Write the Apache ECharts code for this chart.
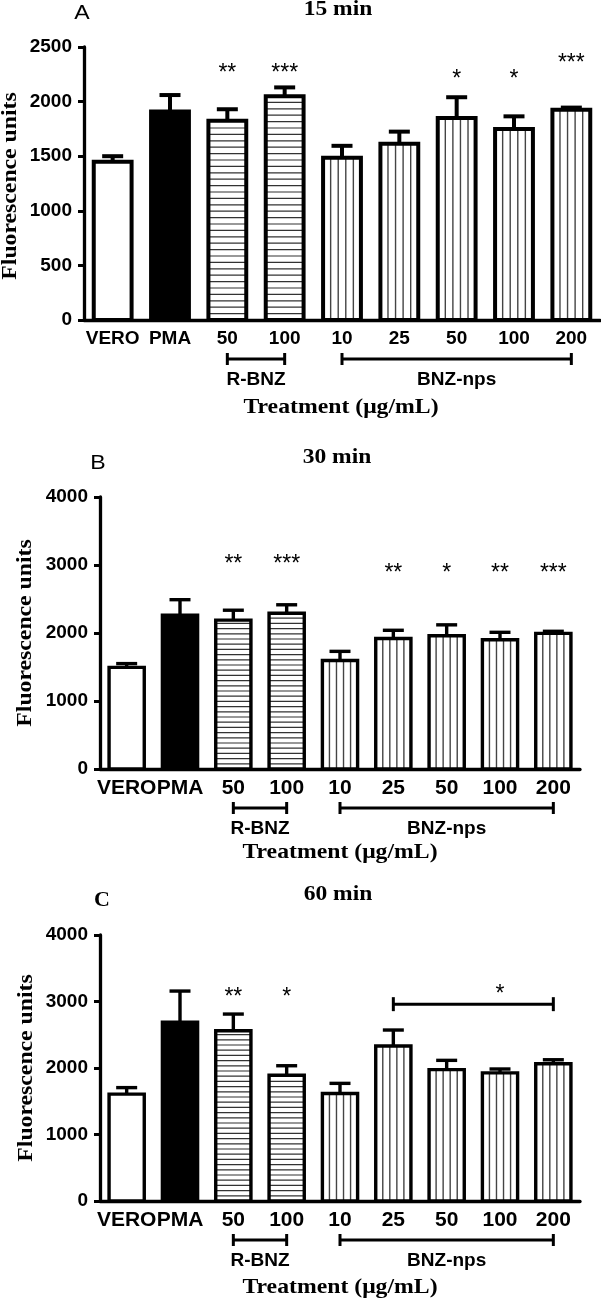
<!DOCTYPE html>
<html>
<head>
  <meta charset="utf-8">
  <title>Fluorescence units</title>
  <script src="https://cdn.jsdelivr.net/npm/echarts@6/dist/echarts.min.js"></script>
  <style>
    html, body { margin: 0; padding: 0; background: #fff; }
  </style>
</head>
<body>
  <div id="main" style="width:601px;height:1300px;"></div>
  <script>
    // categories and which treatment group each bar belongs to
    var categories = ['VERO', 'PMA', '50', '100', '10', '25', '50', '100', '200'];
    var groupOf = ['vero', 'pma', 'rbnz', 'rbnz', 'nps', 'nps', 'nps', 'nps', 'nps'];

    // 15 min
    var mean15 = [1450, 1910, 1825, 2050, 1485, 1615, 1850, 1750, 1925];
    var err15 = [50, 150, 105, 80, 110, 110, 190, 115, 20];
    var stars15 = ['', '', '**', '***', '', '', '*', '*', '***'];
    var starAt15 = [0, 0, 2300, 2300, 0, 0, 2245, 2245, 2390];

    // 30 min
    var mean30 = [1495, 2260, 2190, 2290, 1595, 1920, 1960, 1900, 1995];
    var err30 = [55, 230, 145, 125, 135, 120, 160, 110, 30];
    var stars30 = ['', '', '**', '***', '', '**', '*', '**', '***'];
    var starAt30 = [0, 0, 3080, 3080, 0, 2950, 2950, 2950, 2950];

    // 60 min
    var mean60 = [1607, 2687, 2561, 1892, 1617, 2331, 1975, 1926, 2064];
    var err60 = [98, 470, 250, 142, 152, 240, 140, 59, 60];
    var stars60 = ['', '', '**', '*', '', '', '', '', ''];
    var starAt60 = [0, 0, 3130, 3130, 0, 0, 0, 0, 0];
    var sig60 = [[5, 8, 2960]];
    var sig60Star = [[6.5, 3175]];

    var yMax = [2500, 4000, 4000];
    var yStep = [500, 1000, 1000];
    var titles = ['15 min', '30 min', '60 min'];
    var letters = ['A', 'B', 'C'];
    var brackets = [[2, 3, 0], [4, 8, 0]];
    var bracketNames = ['R-BNZ', 'BNZ-nps'];

    var panels = [
      { mean: mean15, err: err15, stars: stars15, starAt: starAt15 },
      { mean: mean30, err: err30, stars: stars30, starAt: starAt30 },
      { mean: mean60, err: err60, stars: stars60, starAt: starAt60 }
    ];

    var SANS = '"Liberation Sans", Arial, sans-serif';
    var SERIF = '"Liberation Serif", "Times New Roman", serif';

    var grids = [
      { left: 84, top: 47, width: 516, height: 273 },
      { left: 100, top: 497, width: 480, height: 272 },
      { left: 100, top: 935, width: 480, height: 266 }
    ];
    var lw = [4, 3.4, 3.4];
    var hGap = [6.4, 5.2, 5.2];

    function seg(x1, y1, x2, y2, w, c) {
      return { type: 'line', shape: { x1: x1, y1: y1, x2: x2, y2: y2 }, style: { stroke: c || '#000', lineWidth: w } };
    }
    function txt(x, y, s, font) {
      return {
        type: 'text', x: x, y: y,
        style: { text: s, font: font, fill: '#000', textAlign: 'center', textVerticalAlign: 'middle', align: 'center', verticalAlign: 'middle' }
      };
    }

    function barRenderer(p) {
      return function (params, api) {
        var i = api.value(0);
        var top = api.coord([i, api.value(1)]);
        var base = api.coord([i, 0]);
        var w = api.size([1, 0])[0] * 0.66;
        var x0 = top[0] - w / 2;
        var h = base[1] - top[1];
        var kind = groupOf[i];
        var kids = [{ type: 'rect', shape: { x: x0, y: top[1], width: w, height: h }, style: { fill: kind === 'pma' ? '#000' : '#fff' } }];
        if (kind === 'rbnz') {
          for (var y = base[1] - hGap[p]; y > top[1] + 2; y -= hGap[p]) kids.push(seg(x0, y, x0 + w, y, 1.2, '#333'));
        } else if (kind === 'nps') {
          for (var k = 1; k < 5; k++) {
            var x = x0 + w * k / 5;
            kids.push(seg(x, top[1], x, base[1], 1.4, '#444'));
          }
        }
        kids.push({ type: 'rect', shape: { x: x0, y: top[1], width: w, height: h }, style: { fill: null, stroke: '#000', lineWidth: lw[p] } });
        return { type: 'group', children: kids };
      };
    }

    function errRenderer(p) {
      return function (params, api) {
        var i = api.value(0);
        var a = api.coord([i, api.value(1)]);
        var b = api.coord([i, api.value(2)]);
        return {
          type: 'group', children: [
            seg(a[0], a[1], b[0], b[1], lw[p]),
            seg(b[0] - 10.5, b[1], b[0] + 10.5, b[1], lw[p])
          ]
        };
      };
    }

    function starRenderer(p) {
      return function (params, api) {
        var i = api.value(0);
        var c = api.coord([i, api.value(1)]);
        return txt(c[0], c[1] + 5, panels[p].stars[i], '23px ' + SANS);
      };
    }

    function bracketRenderer(p) {
      return function (params, api) {
        var a = api.coord([api.value(0), 0]);
        var b = api.coord([api.value(1), 0]);
        var y = a[1] + 39;
        return {
          type: 'group', children: [
            seg(a[0], y, b[0], y, 3),
            seg(a[0], y - 6, a[0], y + 6, 3),
            seg(b[0], y - 6, b[0], y + 6, 3),
            txt((a[0] + b[0]) / 2, y + 21, bracketNames[params.dataIndex], 'bold 19px ' + SANS)
          ]
        };
      };
    }

    function sigRenderer(params, api) {
      var a = api.coord([api.value(0), api.value(2)]);
      var b = api.coord([api.value(1), api.value(2)]);
      return {
        type: 'group', children: [
          seg(a[0], a[1], b[0], b[1], 3),
          seg(a[0], a[1] - 7, a[0], a[1] + 7, 3),
          seg(b[0], b[1] - 7, b[0], b[1] + 7, 3)
        ]
      };
    }

    function sigStarRenderer(params, api) {
      var c = api.coord([api.value(0), api.value(1)]);
      return txt(c[0], c[1] + 5, '*', '23px ' + SANS);
    }

    var xAxes = [], yAxes = [], series = [];
    panels.forEach(function (pn, p) {
      xAxes.push({
        gridIndex: p, type: 'category', data: categories,
        axisLine: { lineStyle: { color: '#000', width: 3.3 } },
        axisTick: { alignWithLabel: true, length: 6, lineStyle: { color: '#000', width: 3 } },
        axisLabel: { interval: 0, margin: 9, color: '#000', fontWeight: 'bold', fontFamily: SANS, fontSize: p === 0 ? 19 : 21 }
      });
      yAxes.push({
        gridIndex: p, type: 'value', min: 0, max: yMax[p], interval: yStep[p],
        splitLine: { show: false },
        axisLine: { show: true, lineStyle: { color: '#000', width: 3.3 } },
        axisTick: { show: true, length: 6, lineStyle: { color: '#000', width: 3 } },
        axisLabel: {
          margin: 12, color: '#000', fontWeight: 'bold', fontFamily: SANS, fontSize: 19,
          formatter: function (v) { return String(v); }
        }
      });
      series.push({
        type: 'custom', xAxisIndex: p, yAxisIndex: p, silent: true,
        renderItem: barRenderer(p),
        data: pn.mean.map(function (v, i) { return [i, v]; })
      });
      series.push({
        type: 'custom', xAxisIndex: p, yAxisIndex: p, silent: true,
        renderItem: errRenderer(p), encode: { x: 0, y: [1, 2] },
        data: pn.mean.map(function (v, i) { return [i, v, v + pn.err[i]]; })
      });
      series.push({
        type: 'custom', xAxisIndex: p, yAxisIndex: p, silent: true,
        renderItem: starRenderer(p),
        data: pn.starAt.map(function (v, i) { return [i, v]; }).filter(function (d) { return pn.stars[d[0]]; })
      });
      series.push({
        type: 'custom', xAxisIndex: p, yAxisIndex: p, silent: true, clip: false,
        renderItem: bracketRenderer(p), encode: { x: [0, 1], y: 2 },
        data: brackets
      });
    });
    series.push({
      type: 'custom', xAxisIndex: 2, yAxisIndex: 2, silent: true,
      renderItem: sigRenderer, encode: { x: [0, 1], y: 2 }, data: sig60
    });
    series.push({
      type: 'custom', xAxisIndex: 2, yAxisIndex: 2, silent: true,
      renderItem: sigStarRenderer, data: sig60Star
    });

    function label(x, y, s, font, opts) {
      var e = {
        type: 'text', x: x, y: y,
        style: { text: s, font: font, fill: '#000', textAlign: 'center', textVerticalAlign: 'middle', align: 'center', verticalAlign: 'middle' }
      };
      for (var k in opts) e[k] = opts[k];
      return e;
    }

    var graphics = [
      label(82, 13, letters[0], '21px ' + SANS, { scaleX: 1.1 }),
      label(98, 463, letters[1], '21px ' + SANS, { scaleX: 1.1 }),
      label(102, 900, letters[2], 'bold 22px ' + SERIF, {}),
      label(338, 10, titles[0], 'bold 21px ' + SERIF, { scaleX: 1.12 }),
      label(337, 458, titles[1], 'bold 21px ' + SERIF, { scaleX: 1.12 }),
      label(338, 895, titles[2], 'bold 21px ' + SERIF, { scaleX: 1.12 }),
      label(10.5, 186, 'Fluorescence units', 'bold 21px ' + SERIF, { rotation: Math.PI / 2, scaleX: 1.13 }),
      label(26, 633, 'Fluorescence units', 'bold 21px ' + SERIF, { rotation: Math.PI / 2, scaleX: 1.13 }),
      label(27, 1068, 'Fluorescence units', 'bold 21px ' + SERIF, { rotation: Math.PI / 2, scaleX: 1.13 }),
      label(341, 408, 'Treatment (\u03bcg/mL)', 'bold 21px ' + SERIF, { scaleX: 1.13 }),
      label(340, 853, 'Treatment (\u03bcg/mL)', 'bold 21px ' + SERIF, { scaleX: 1.13 }),
      label(340, 1288, 'Treatment (\u03bcg/mL)', 'bold 21px ' + SERIF, { scaleX: 1.13 })
    ];

    var myChart = echarts.init(document.getElementById('main'));
    myChart.setOption({
      animation: false,
      backgroundColor: '#fff',
      grid: grids,
      xAxis: xAxes,
      yAxis: yAxes,
      series: series,
      graphic: graphics
    });
  </script>
</body>
</html>
